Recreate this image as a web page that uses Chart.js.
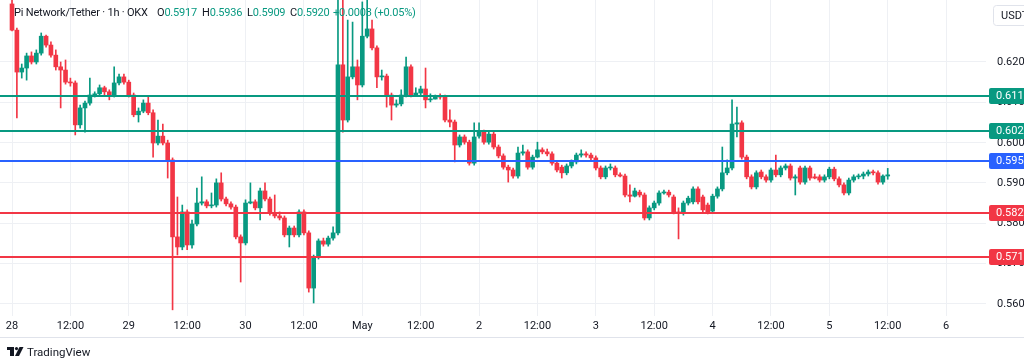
<!DOCTYPE html>
<html><head><meta charset="utf-8">
<script src="https://cdn.jsdelivr.net/npm/chart.js@4.4.1/dist/chart.umd.min.js"></script>
<style>
html,body{margin:0;padding:0;background:#fff;width:1024px;height:361px;overflow:hidden;}
#wrap{position:relative;width:1024px;height:361px;overflow:hidden;}
canvas{position:absolute;left:0;top:0;display:block;}
.h{position:absolute;top:6px;font:11px Roboto,sans-serif;letter-spacing:-0.2px;color:#131722;white-space:nowrap;}
.v{color:#089981;}
#tv{position:absolute;left:27px;top:345px;font:11.5px Roboto,sans-serif;color:#131722;}
</style></head>
<body><div id="wrap"><canvas id="c" width="1024" height="361" style="width:1024px;height:361px"></canvas>
<div class="h" id="h0" style="left:14px"></div>
<div class="h" id="h1" style="left:157px"></div>
<div class="h" id="h2" style="left:202px"></div>
<div class="h" id="h3" style="left:247px"></div>
<div class="h" id="h4" style="left:290px"></div>
<div class="h v" id="h5" style="left:333px"></div>
<div class="h v" id="h6" style="left:374px"></div>
<div id="tv">TradingView</div></div>
<script>
const opens = [.6344,.6279,.6175,.6185,.6215,.6200,.6222,.6264,.6242,.6217,.6188,.6180,.6150,.6148,.6044,.6086,.6098,.6118,.6121,.6136,
.6126,.6118,.6148,.6163,.6150,.6118,.6069,.6078,.6098,.6074,.5999,.6016,.5999,.5957,.5766,.5741,.5828,.5746,.5798,.5850,
.5853,.5843,.5845,.5900,.5860,.5848,.5840,.5766,.5751,.5850,.5853,.5838,.5880,.5860,.5825,.5818,.5813,.5771,.5788,.5771,
.5828,.5776,.5639,.5716,.5756,.5748,.5763,.5776,.6193,.6056,.6163,.6188,.6143,.6264,.6282,.6235,.6163,.6165,.6118,.6093,
.6096,.6118,.6188,.6118,.6123,.6133,.6106,.6108,.6116,.6113,.6056,.6051,.5994,.6014,.6001,.5949,.6016,.6026,.6001,.6021,
.5989,.5967,.5939,.5932,.5917,.5974,.5977,.5939,.5964,.5982,.5977,.5972,.5949,.5939,.5925,.5942,.5952,.5969,.5972,.5969,
.5962,.5937,.5915,.5937,.5937,.5920,.5917,.5870,.5867,.5877,.5870,.5813,.5838,.5850,.5875,.5877,.5865,.5828,.5825,.5850,
.5853,.5885,.5865,.5845,.5830,.5867,.5885,.5925,.5937,.6046,.6049,.5964,.5915,.5890,.5927,.5915,.5907,.5932,.5920,.5937,
.5942,.5912,.5937,.5902,.5937,.5915,.5915,.5907,.5915,.5934,.5910,.5895,.5875,.5907,.5915,.5917,.5922,.5927,.5925,.5902,
.5917];
const highs = [.6366,.6284,.6195,.6222,.6225,.6230,.6272,.6267,.6250,.6230,.6200,.6205,.6160,.6153,.6093,.6103,.6160,.6126,.6143,.6140,
.6131,.6188,.6170,.6170,.6155,.6123,.6086,.6106,.6113,.6081,.6056,.6046,.6006,.5962,.5865,.5845,.5833,.5808,.5887,.5915,
.5858,.5875,.5910,.5925,.5865,.5853,.5845,.5771,.5858,.5900,.5858,.5887,.5900,.5865,.5870,.5828,.5818,.5793,.5793,.5833,
.5833,.5781,.5721,.5761,.5763,.5768,.5791,.6366,.6366,.6304,.6299,.6205,.6349,.6361,.6304,.6240,.6180,.6170,.6123,.6106,
.6131,.6212,.6193,.6136,.6140,.6185,.6121,.6118,.6121,.6118,.6081,.6056,.6019,.6019,.6006,.6049,.6049,.6031,.6026,.6026,
.5994,.5972,.5944,.5937,.5989,.5994,.5982,.5969,.6001,.5987,.5984,.5977,.5954,.5944,.5947,.5957,.5974,.5982,.5977,.5974,
.5967,.5942,.5942,.5947,.5942,.5925,.5922,.5895,.5887,.5882,.5875,.5843,.5855,.5880,.5882,.5882,.5870,.5838,.5855,.5867,
.5890,.5890,.5870,.5850,.5872,.5890,.5989,.5957,.6106,.6088,.6054,.5969,.5920,.5930,.5932,.5920,.5937,.5969,.5942,.5947,
.5947,.5920,.5942,.5942,.5942,.5922,.5920,.5920,.5939,.5939,.5915,.5900,.5912,.5920,.5922,.5927,.5932,.5932,.5930,.5920,
.5936];
const lows = [.6277,.6061,.6160,.6155,.6195,.6195,.6217,.6237,.6212,.6180,.6086,.6145,.6140,.6019,.6036,.6026,.6093,.6113,.6116,.6118,
.6106,.6113,.6143,.6145,.6113,.6064,.6051,.6074,.6069,.5964,.5994,.5994,.5912,.5585,.5721,.5734,.5734,.5738,.5793,.5845,
.5838,.5838,.5840,.5855,.5843,.5835,.5761,.5654,.5746,.5848,.5833,.5808,.5855,.5820,.5813,.5808,.5766,.5741,.5766,.5766,
.5771,.5629,.5602,.5711,.5743,.5743,.5758,.5771,.6026,.6051,.6158,.6106,.6138,.6260,.6230,.6136,.6155,.6088,.6056,.6088,
.6091,.6113,.6113,.6116,.6118,.6086,.6101,.6108,.6108,.6051,.6039,.5952,.5989,.5996,.5944,.5944,.6011,.5996,.5996,.5984,
.5962,.5934,.5902,.5912,.5912,.5969,.5934,.5934,.5962,.5972,.5967,.5944,.5927,.5912,.5920,.5937,.5947,.5964,.5964,.5957,
.5932,.5910,.5910,.5932,.5915,.5915,.5865,.5853,.5865,.5865,.5808,.5808,.5833,.5845,.5872,.5865,.5823,.5761,.5820,.5845,
.5848,.5848,.5828,.5823,.5825,.5862,.5880,.5920,.5932,.6014,.5959,.5910,.5885,.5885,.5910,.5902,.5902,.5915,.5915,.5932,
.5907,.5870,.5897,.5897,.5907,.5910,.5902,.5902,.5910,.5905,.5890,.5870,.5870,.5902,.5910,.5910,.5917,.5920,.5897,.5897,
.5909];
const closes = [.6279,.6175,.6185,.6215,.6200,.6222,.6264,.6242,.6217,.6188,.6180,.6150,.6148,.6044,.6086,.6098,.6118,.6121,.6136,.6126,
.6116,.6148,.6163,.6150,.6118,.6069,.6078,.6098,.6074,.5999,.6016,.5999,.5957,.5766,.5741,.5828,.5746,.5798,.5850,.5853,
.5843,.5845,.5900,.5860,.5848,.5840,.5766,.5751,.5850,.5853,.5838,.5880,.5860,.5825,.5818,.5813,.5771,.5788,.5771,.5828,
.5776,.5639,.5716,.5756,.5748,.5763,.5776,.6193,.6056,.6163,.6188,.6143,.6264,.6282,.6235,.6163,.6165,.6118,.6093,.6096,
.6118,.6188,.6118,.6123,.6133,.6106,.6108,.6113,.6113,.6056,.6051,.5994,.6014,.6001,.5949,.6014,.6026,.6001,.6021,.5989,
.5967,.5939,.5932,.5917,.5974,.5977,.5939,.5964,.5982,.5977,.5972,.5949,.5932,.5925,.5942,.5952,.5969,.5972,.5969,.5962,
.5937,.5915,.5937,.5939,.5920,.5917,.5870,.5867,.5880,.5870,.5813,.5838,.5850,.5875,.5877,.5870,.5828,.5825,.5850,.5862,
.5885,.5853,.5833,.5828,.5867,.5885,.5925,.5937,.6046,.6049,.5964,.5915,.5890,.5925,.5915,.5907,.5932,.5920,.5937,.5942,
.5912,.5915,.5902,.5937,.5912,.5912,.5907,.5915,.5934,.5910,.5895,.5875,.5907,.5915,.5917,.5922,.5927,.5925,.5902,.5917,
.5920];
const tickHours = [0,12,24,36,48,60,72,84,96,108,120,132,144,156,168,180,192];
const tickLabels = ['28','12:00','29','12:00','30','12:00','May','12:00','2','12:00','3','12:00','4','12:00','5','12:00','6'];
const priceTicks = [0.56,0.57,0.58,0.59,0.60,0.61,0.62];
const levelValues = [0.6116,0.6029,0.5954,0.5825,0.5716];
const levelLabels = ['0.611','0.602','0.595','0.582','0.571'];
const levelColors = ['#089981','#089981','#2962ff','#f23645','#f23645'];
const symbolText = 'Pi Network/Tether · 1h · OKX';
const unitText = 'USDT';

const UP = '#089981', DOWN = '#f23645';
const candleColors = closes.map((c,i) => c >= opens[i] ? UP : DOWN);
const last = closes.length - 1;

const chg = closes[last] - closes[last-1];
const pct = chg / closes[last-1] * 100;
const sgn = v => (v >= 0 ? '+' : '');
const grp = (k, v) => k + '<span class="v">' + v.toFixed(4) + '</span>';
document.getElementById('h0').textContent = symbolText;
document.getElementById('h1').innerHTML = grp('O', opens[last]);
document.getElementById('h2').innerHTML = grp('H', highs[last]);
document.getElementById('h3').innerHTML = grp('L', lows[last]);
document.getElementById('h4').innerHTML = grp('C', closes[last]);
document.getElementById('h5').textContent = sgn(chg) + chg.toFixed(4);
document.getElementById('h6').textContent = '(' + sgn(pct) + pct.toFixed(2) + '%)';

const FONT = 'Roboto, sans-serif';

const overlay = {
  id: 'overlay',
  afterDatasetsDraw(chart) {
    const ctx = chart.ctx, y = chart.scales.y, a = chart.chartArea;
    ctx.save();
    levelValues.forEach((v, i) => {
      const py = Math.round(y.getPixelForValue(v));
      ctx.strokeStyle = levelColors[i];
      ctx.lineWidth = 2;
      ctx.beginPath();
      ctx.moveTo(a.left, py);
      ctx.lineTo(989, py);
      ctx.stroke();
    });
    ctx.restore();
  },
  afterDraw(chart) {
    const ctx = chart.ctx, y = chart.scales.y;
    ctx.save();
    ctx.font = '11px ' + FONT;
    ctx.textBaseline = 'middle';
    ctx.textAlign = 'left';
    ctx.fillStyle = '#131722';
    priceTicks.forEach(v => {
      ctx.fillText(v.toFixed(3), 997, Math.round(y.getPixelForValue(v)) + 0.5);
    });
    ctx.strokeStyle = '#e0e3eb';
    ctx.lineWidth = 1;
    ctx.beginPath(); ctx.moveTo(0, 337.5); ctx.lineTo(1024, 337.5); ctx.stroke();
    levelValues.forEach((v, i) => {
      const py = Math.round(y.getPixelForValue(v));
      ctx.fillStyle = levelColors[i];
      ctx.beginPath();
      ctx.roundRect(989, py - 8, 40, 16, 2);
      ctx.fill();
      ctx.fillStyle = '#ffffff';
      ctx.fillText(levelLabels[i], 996, py + 0.5);
    });
    ctx.strokeStyle = '#e0e3eb';
    ctx.beginPath();
    ctx.roundRect(993.5, 5.5, 40, 20, 3);
    ctx.stroke();
    ctx.fillStyle = '#131722';
    ctx.fillText(unitText, 1001, 16);
    ctx.fillRect(7, 347, 7, 3);
    ctx.fillRect(10, 347, 4, 9);
    ctx.beginPath(); ctx.arc(16.5, 348.6, 1.6, 0, Math.PI*2); ctx.fill();
    ctx.beginPath();
    ctx.moveTo(19.5, 347); ctx.lineTo(23.5, 347); ctx.lineTo(19, 356); ctx.lineTo(15, 356); ctx.closePath(); ctx.fill();
    ctx.restore();
  }
};

new Chart(document.getElementById('c'), {
  type: 'bar',
  data: {
    datasets: [
      { label: 'wick', data: highs.map((h, i) => ({ x: i, y: [lows[i], h] })),
        backgroundColor: candleColors, barThickness: 1, grouped: false, order: 2 },
      { label: 'body', data: closes.map((c, i) => ({ x: i, y: [opens[i], c] })),
        backgroundColor: candleColors, barThickness: 4, minBarLength: 1, grouped: false, order: 1 }
    ]
  },
  options: {
    responsive: false,
    maintainAspectRatio: false,
    animation: false,
    devicePixelRatio: 1,
    layout: { padding: 0 },
    plugins: { legend: { display: false }, tooltip: { enabled: false } },
    scales: {
      x: {
        type: 'linear', min: -2.47, max: 200.2, offset: false,
        afterBuildTicks: s => { s.ticks = tickHours.map(v => ({ value: v })); },
        afterFit: s => { s.height = 45; },
        ticks: { autoSkip: false, maxRotation: 0, padding: 4, color: '#131722',
                 font: { family: FONT, size: 11 }, callback: (v, i) => tickLabels[i] },
        grid: { color: '#eef0f4', drawTicks: false, offset: false },
        border: { display: false }
      },
      y: {
        type: 'linear', position: 'right', min: 0.55697, max: 0.63538,
        afterBuildTicks: s => { s.ticks = priceTicks.map(v => ({ value: v })); },
        afterFit: s => { s.width = 38; s.paddingTop = 0; s.paddingBottom = 0; },
        ticks: { display: false },
        grid: { color: '#eef0f4', drawTicks: false },
        border: { display: false }
      }
    }
  },
  plugins: [overlay]
});
</script>
</body></html>
